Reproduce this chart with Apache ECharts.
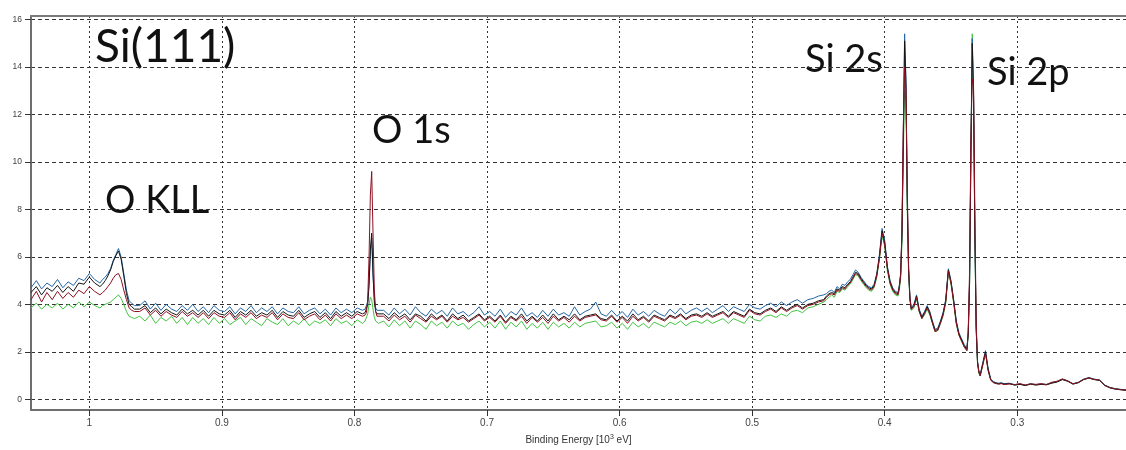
<!DOCTYPE html>
<html><head><meta charset="utf-8">
<script src="https://cdn.jsdelivr.net/npm/echarts@6/dist/echarts.min.js"></script>
<style>html,body{margin:0;padding:0;background:#fff}#c{width:1126px;height:450px}</style>
</head><body><div id="c"></div>
<script>
// Binding energy grid [10^3 eV]
const energy = [
1.044,1.040,1.036,1.032,1.028,1.024,1.020,1.016,1.012,1.008,1.004,1.000,0.996,0.992,
0.990,0.988,0.986,0.984,0.982,0.980,0.978,0.976,0.974,0.972,0.970,0.968,0.966,
0.962,0.958,0.954,0.950,0.946,0.942,0.938,0.934,0.930,0.926,0.922,0.918,0.914,0.910,0.906,0.902,0.898,0.894,0.890,0.886,0.882,0.878,0.874,0.870,0.866,0.862,0.858,0.854,0.850,0.846,0.842,0.838,0.834,0.830,0.826,0.822,0.818,0.814,0.810,0.806,0.802,0.798,0.794,
0.792,0.791,0.790,0.789,0.788,0.787,0.786,0.785,0.784,0.783,0.782,
0.778,0.774,0.770,0.766,0.762,0.758,0.754,0.750,0.746,0.742,0.738,0.734,0.730,0.726,0.722,0.718,0.714,0.710,0.706,0.702,
0.698,0.694,0.690,0.686,0.682,0.678,0.674,0.670,0.666,0.662,0.658,0.654,0.650,0.646,0.642,0.638,0.634,0.630,0.626,0.622,
0.618,0.614,0.610,0.606,0.602,0.598,0.594,0.590,0.586,0.582,0.578,0.574,0.570,0.566,0.562,0.558,0.554,0.550,0.546,0.542,
0.538,0.534,0.530,0.526,0.522,0.518,0.514,0.510,0.506,0.502,0.498,0.494,0.490,0.486,0.482,0.478,0.474,0.470,0.466,0.462,0.458,0.454,0.450,0.446,
0.444,0.442,0.440,0.438,0.436,0.434,0.432,0.430,0.428,0.426,0.424,0.422,0.420,0.418,0.416,0.414,0.412,0.410,0.408,0.406,0.404,0.402,0.400,0.398,0.396,0.394,0.392,0.390,
0.389,0.388,0.387,0.386,0.385,0.384,0.383,0.382,0.381,0.380,
0.378,0.376,0.374,0.372,0.370,0.368,0.366,0.364,0.362,0.360,0.358,0.356,0.354,0.352,0.350,0.348,0.346,0.344,0.342,0.340,0.338,
0.337,0.336,0.335,0.334,0.333,0.332,0.331,0.330,0.329,0.328,
0.326,0.324,0.322,0.320,0.318,0.316,0.314,0.312,0.310,
0.306,0.302,0.298,0.294,0.290,0.286,0.282,0.278,0.274,0.270,0.266,0.262,0.258,0.254,0.250,0.246,0.242,0.238,0.234,0.230,0.226,0.222,0.218
];
const blue = [
4.7,5.0,4.65,4.9,4.75,5.05,4.7,4.95,4.8,5.1,5.0,5.3,5.05,4.9,
5.05,5.15,5.3,5.5,5.85,6.1,6.35,6.0,5.3,4.6,4.15,4.05,3.95,
3.95,4.15,3.8,4.05,3.75,4.0,3.8,3.7,3.95,3.75,4.0,3.7,3.9,3.65,3.95,3.75,3.7,3.9,3.6,3.85,3.7,3.95,3.65,3.85,3.7,3.9,3.6,3.85,3.7,3.65,3.9,3.6,3.75,3.85,3.6,3.8,3.55,3.85,3.65,3.8,3.65,3.85,3.75,
3.8,3.85,4.1,4.9,6.2,6.8,5.2,4.2,3.85,3.75,3.7,
3.75,3.55,3.85,3.6,3.8,3.55,3.9,3.65,3.5,3.8,3.6,3.75,3.5,3.85,3.6,3.7,3.5,3.65,3.9,3.55,
3.7,3.5,3.8,3.45,3.7,3.55,3.85,3.5,3.65,3.45,3.75,3.5,3.8,3.55,3.65,3.5,3.9,3.55,3.7,3.8,
4.1,3.6,3.5,3.75,3.5,3.7,3.45,3.8,3.55,3.7,3.5,3.75,3.6,3.5,3.8,3.6,3.85,3.6,3.75,3.85,
3.7,3.85,3.65,3.8,3.95,3.7,3.9,3.8,3.7,4.0,3.85,3.8,3.95,4.05,3.9,4.1,3.95,4.1,4.2,4.05,4.2,4.25,4.35,4.4,
4.45,4.55,4.6,4.5,4.75,4.65,4.85,4.8,4.95,5.05,5.25,5.45,5.35,5.15,5.0,4.85,4.75,4.7,4.85,5.3,6.1,7.2,6.7,5.6,5.0,4.7,4.55,4.5,
4.8,5.3,7.0,11.0,15.4,13.5,8.5,5.5,4.3,3.85,
4.0,4.4,3.8,3.5,3.7,3.95,3.7,3.3,2.95,3.0,3.3,3.65,4.2,5.5,5.0,4.2,3.3,2.8,2.55,2.3,2.15,
2.8,5.0,10.5,15.2,13.0,7.0,3.0,1.6,1.2,1.05,
1.55,2.05,1.3,0.85,0.75,0.7,0.68,0.7,0.66,
0.68,0.62,0.65,0.6,0.66,0.62,0.65,0.63,0.7,0.75,0.85,0.78,0.66,0.72,0.85,0.92,0.85,0.82,0.6,0.5,0.45,0.42,0.4
];
const black = [
4.5,4.75,4.4,4.7,4.55,4.8,4.5,4.75,4.55,4.9,4.85,5.15,4.9,4.75,
4.85,5.0,5.2,5.45,5.8,6.05,6.25,5.9,5.2,4.45,4.0,3.9,3.8,
3.8,3.95,3.65,3.85,3.6,3.8,3.65,3.55,3.8,3.6,3.75,3.55,3.75,3.5,3.75,3.6,3.55,3.75,3.45,3.7,3.55,3.75,3.5,3.65,3.55,3.75,3.45,3.7,3.55,3.5,3.75,3.45,3.6,3.7,3.45,3.65,3.4,3.7,3.5,3.65,3.5,3.7,3.6,
3.65,3.7,4.0,4.8,6.3,7.0,5.3,4.1,3.7,3.6,3.55,
3.6,3.4,3.65,3.45,3.6,3.35,3.6,3.5,3.3,3.6,3.4,3.55,3.3,3.6,3.4,3.55,3.3,3.45,3.6,3.35,
3.5,3.3,3.55,3.25,3.5,3.35,3.6,3.3,3.5,3.3,3.55,3.3,3.6,3.35,3.5,3.35,3.6,3.35,3.5,3.55,
3.6,3.4,3.35,3.55,3.3,3.5,3.3,3.6,3.35,3.5,3.3,3.55,3.45,3.35,3.55,3.45,3.6,3.4,3.55,3.6,
3.5,3.65,3.5,3.6,3.7,3.5,3.7,3.6,3.5,3.8,3.65,3.6,3.75,3.85,3.7,3.9,3.75,3.9,4.0,3.85,4.0,4.05,4.15,4.2,
4.35,4.45,4.5,4.45,4.65,4.6,4.75,4.7,4.85,4.95,5.15,5.35,5.3,5.1,4.95,4.8,4.7,4.65,4.8,5.25,6.0,7.1,6.6,5.55,4.95,4.65,4.5,4.45,
4.75,5.25,6.9,10.8,15.1,13.3,8.4,5.45,4.25,3.8,
3.95,4.35,3.75,3.45,3.65,3.9,3.65,3.25,2.9,2.95,3.25,3.6,4.15,5.45,4.95,4.15,3.25,2.75,2.5,2.25,2.1,
2.75,4.9,10.3,15.0,12.8,6.9,2.95,1.55,1.15,1.0,
1.5,2.0,1.25,0.82,0.72,0.68,0.65,0.68,0.64,
0.66,0.6,0.63,0.58,0.64,0.6,0.63,0.61,0.68,0.73,0.83,0.76,0.64,0.7,0.83,0.9,0.83,0.8,0.58,0.48,0.43,0.4,0.38
];
const red = [
4.2,4.55,4.1,4.5,4.2,4.55,4.25,4.5,4.3,4.6,4.45,4.75,4.55,4.4,
4.5,4.6,4.75,4.9,5.1,5.25,5.3,5.05,4.6,4.2,3.85,3.75,3.7,
3.7,3.85,3.55,3.75,3.5,3.7,3.55,3.45,3.7,3.5,3.65,3.45,3.65,3.4,3.65,3.5,3.45,3.65,3.35,3.6,3.45,3.65,3.4,3.55,3.45,3.65,3.35,3.6,3.45,3.4,3.65,3.35,3.5,3.6,3.35,3.55,3.3,3.6,3.4,3.55,3.4,3.6,3.5,
3.55,3.65,4.2,6.0,8.6,9.6,7.0,4.6,3.7,3.5,3.45,
3.5,3.3,3.55,3.35,3.5,3.25,3.55,3.4,3.25,3.5,3.35,3.5,3.25,3.5,3.35,3.45,3.25,3.4,3.55,3.3,
3.45,3.25,3.5,3.2,3.45,3.3,3.5,3.2,3.45,3.25,3.45,3.2,3.5,3.3,3.45,3.25,3.5,3.3,3.45,3.5,
3.55,3.35,3.3,3.5,3.25,3.45,3.2,3.5,3.3,3.45,3.25,3.5,3.4,3.3,3.5,3.4,3.55,3.35,3.5,3.55,
3.45,3.6,3.45,3.55,3.65,3.45,3.65,3.55,3.45,3.75,3.6,3.55,3.7,3.8,3.65,3.85,3.7,3.85,3.95,3.8,3.95,4.0,4.1,4.15,
4.3,4.4,4.45,4.4,4.6,4.55,4.7,4.65,4.8,4.9,5.1,5.3,5.25,5.05,4.9,4.75,4.65,4.6,4.75,5.2,5.95,7.0,6.5,5.5,4.9,4.6,4.45,4.4,
4.7,5.2,7.2,11.5,14.0,13.0,9.0,5.6,4.3,3.8,
3.9,4.3,3.7,3.4,3.6,3.85,3.6,3.2,2.85,2.9,3.2,3.55,4.1,5.4,4.9,4.1,3.2,2.7,2.45,2.2,2.05,
2.9,5.4,11.0,13.5,13.2,7.8,3.2,1.6,1.15,1.0,
1.45,1.95,1.2,0.8,0.7,0.66,0.64,0.66,0.62,
0.65,0.62,0.66,0.6,0.65,0.63,0.66,0.62,0.72,0.76,0.86,0.78,0.65,0.71,0.84,0.9,0.84,0.81,0.59,0.49,0.44,0.41,0.39
];
const green = [
3.85,4.05,3.8,4.0,3.85,4.05,3.8,4.0,3.85,4.1,3.9,4.1,3.95,3.85,
3.95,4.0,4.05,4.1,4.2,4.3,4.4,4.25,4.0,3.7,3.5,3.45,3.4,
3.5,3.3,3.55,3.2,3.45,3.3,3.5,3.2,3.45,3.15,3.45,3.2,3.4,3.15,3.45,3.2,3.4,3.15,3.3,3.45,3.15,3.4,3.25,3.1,3.4,3.25,3.15,3.4,3.1,3.3,3.15,3.4,3.1,3.3,3.2,3.35,3.1,3.4,3.2,3.3,3.1,3.35,3.2,
3.3,3.35,3.6,4.0,4.3,4.2,3.8,3.45,3.3,3.25,3.2,
3.3,3.05,3.35,3.1,3.3,3.0,3.3,3.15,2.95,3.3,3.1,3.25,3.0,3.3,3.1,3.2,2.95,3.15,3.3,3.05,
3.25,3.0,3.3,2.95,3.25,3.05,3.3,2.95,3.2,3.0,3.25,2.95,3.25,3.05,3.2,3.0,3.25,3.05,3.2,3.25,
3.3,3.05,3.1,3.25,3.0,3.2,2.95,3.25,3.05,3.2,3.0,3.25,3.15,3.05,3.25,3.15,3.3,3.1,3.25,3.3,
3.2,3.35,3.2,3.3,3.4,3.2,3.4,3.3,3.2,3.5,3.35,3.3,3.5,3.55,3.45,3.6,3.5,3.7,3.75,3.65,3.85,3.9,4.0,4.1,
4.2,4.3,4.4,4.3,4.55,4.5,4.65,4.6,4.75,4.85,5.05,5.25,5.2,5.0,4.85,4.7,4.6,4.55,4.7,5.15,5.9,6.9,6.45,5.4,4.85,4.55,4.4,4.35,
4.6,5.1,6.6,10.2,13.0,12.6,8.0,5.3,4.2,3.75,
3.85,4.25,3.7,3.4,3.55,3.8,3.55,3.2,2.85,2.9,3.2,3.5,4.05,5.35,4.85,4.05,3.15,2.7,2.45,2.2,2.05,
2.7,4.8,10.0,15.4,12.6,6.8,2.9,1.5,1.1,0.98,
1.45,1.95,1.25,0.82,0.72,0.68,0.66,0.68,0.64,
0.66,0.6,0.64,0.59,0.64,0.61,0.64,0.62,0.69,0.74,0.84,0.77,0.65,0.7,0.83,0.9,0.84,0.8,0.59,0.49,0.44,0.41,0.39
];
const xTicks = [1.0, 0.9, 0.8, 0.7, 0.6, 0.5, 0.4, 0.3];
const yTicks = [0, 2, 4, 6, 8, 10, 12, 14, 16];
const annotations = ['Si(111)', 'O KLL', 'O 1s', 'Si 2s', 'Si 2p'];
const xName = 'Binding Energy [10{s|3} eV]';

const n = Math.min(energy.length, blue.length, black.length, red.length, green.length);
if (n !== energy.length || n !== blue.length || n !== black.length || n !== red.length || n !== green.length) {
  console.log('length mismatch', energy.length, blue.length, black.length, red.length, green.length);
}
function pairs(arr) { const out = []; for (let i = 0; i < n; i++) out.push([energy[i], arr[i]]); return out; }

const chart = echarts.init(document.getElementById('c'), null, {renderer: 'canvas'});
const labelFont = 'Lato, "Open Sans", sans-serif';
const tickFont = 'Arial, "Liberation Sans", sans-serif';
function mkSeries(name, arr, color) {
  return {name, type: 'line', data: pairs(arr), showSymbol: false, symbol: 'none', sampling: null,
    lineStyle: {color, width: 1}, itemStyle: {color}, animation: false, silent: true};
}
function ann(i, x, y, size) {
  return {type: 'text', x, y, style: {text: annotations[i], font: size + 'px ' + labelFont, fill: '#111', align: 'left', verticalAlign: 'middle'}};
}
chart.setOption({
  animation: false,
  backgroundColor: '#ffffff',
  grid: {left: 31, right: 0, top: 16, bottom: 36, show: false},
  xAxis: [{
    type: 'value', inverse: true, min: 0.218, max: 1.044,
    axisLine: {show: true, onZero: false, lineStyle: {color: '#6e6e6e', width: 2}},
    axisTick: {show: true, customValues: xTicks, length: 6, lineStyle: {color: '#333', width: 1}},
    axisLabel: {customValues: xTicks, fontSize: 10, color: '#444', margin: 8, fontFamily: tickFont},
    splitLine: {show: true, lineStyle: {color: '#333', width: 1, type: [2, 3]}},
    name: xName, nameLocation: 'middle', nameGap: 24,
    nameTextStyle: {fontSize: 10, color: '#333', fontFamily: tickFont,
      rich: {s: {fontSize: 7, verticalAlign: 'top', padding: [0, 0, 5, 0], color: '#333', fontFamily: tickFont}}}
  }, {
    type: 'value', inverse: true, min: 0.218, max: 1.044, position: 'top',
    axisLine: {show: true, onZero: false, lineStyle: {color: '#7a7a7a', width: 2}},
    axisTick: {show: false}, axisLabel: {show: false}, splitLine: {show: false}
  }],
  yAxis: {
    type: 'value', min: -0.45, max: 16.15,
    axisLine: {show: true, onZero: false, lineStyle: {color: '#6e6e6e', width: 2}},
    axisTick: {show: true, customValues: yTicks, length: 6, lineStyle: {color: '#333', width: 1}},
    axisLabel: {customValues: yTicks, fontSize: 8.5, color: '#444', margin: 9, fontFamily: tickFont},
    splitLine: {show: true, lineStyle: {color: '#333', width: 1, type: [4, 3]}}
  },
  series: [
    mkSeries('green', green, '#42c442'),
    mkSeries('blue', blue, '#2466a6'),
    mkSeries('black', black, '#151515'),
    mkSeries('red', red, '#8e1020')
  ],
  graphic: [
    ann(0, 95, 47, 46),
    ann(1, 105, 201, 38),
    ann(2, 372, 131, 38),
    ann(3, 805, 60, 38),
    ann(4, 987, 73, 38)
  ]
});
</script></body></html>
